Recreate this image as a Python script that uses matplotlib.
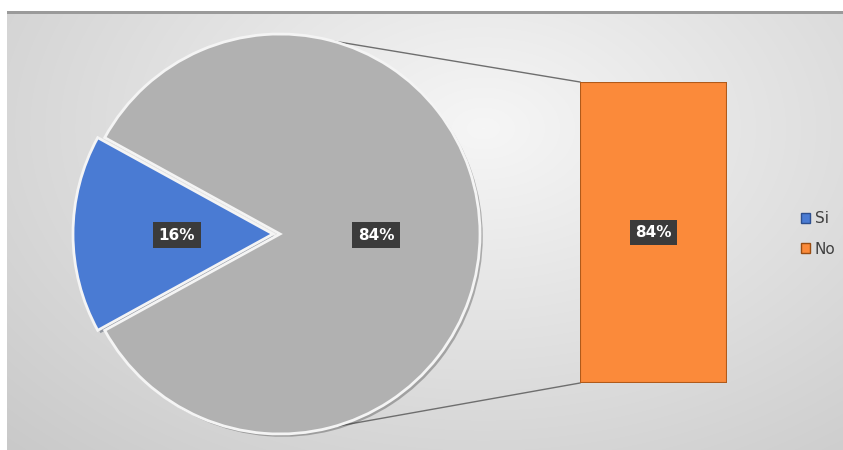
import numpy as np
import matplotlib
matplotlib.use("Agg")
import matplotlib.pyplot as plt
from matplotlib.patches import Patch, Rectangle, Circle
import matplotlib.patheffects as pe

# datos
categorias = ["Si", "No"]
valores = [16, 84]
porcentajes = ["16%", "84%"]
colores = ["#4a7bd3", "#b1b1b1"]
color_barra = "#fb8a3a"

W, H = 843, 450
fig = plt.figure(figsize=(W / 100, H / 100), dpi=100)
fig.patch.set_facecolor("white")
ax = fig.add_axes([0, 0, 1, 1])

# fondo degradado del area del grafico
yy, xx = np.mgrid[0:H, 0:W]
d = np.sqrt(((xx - 480) / 620.0) ** 2 + ((yy - 120) / 420.0) ** 2)
fondo = 0.965 - 0.16 * np.clip(d, 0, 1.2)
img = np.dstack([fondo, fondo, fondo])
ax.imshow(img, extent=[7, W, H, 11], zorder=0, aspect="auto")
ax.add_patch(Rectangle((7, 11), W - 7, 3, color="#9a9a9a", zorder=1, lw=0))

# pastel
cx, cy, r = 280, 234, 200
sombra = [pe.SimplePatchShadow(offset=(2, -2), alpha=0.35), pe.Normal()]
wedges, _ = ax.pie(valores, colors=colores, startangle=180 - valores[0] * 1.8,
                   radius=r, center=(cx, cy), explode=[7, 0],
                   wedgeprops=dict(edgecolor="white", linewidth=2),
                   frame=True)
for w in wedges:
    w.set_zorder(3)
    w.set_path_effects(sombra)
    w.set_edgecolor("#f4f4f4")

# etiquetas del pastel
caja = dict(boxstyle="square,pad=0.35", fc="#3b3b3b", ec="none")
ax.text(177, 235, porcentajes[0], color="white", fontsize=11, fontweight="bold",
        ha="center", va="center", bbox=caja, zorder=5)
ax.text(376, 235, porcentajes[1], color="white", fontsize=11, fontweight="bold",
        ha="center", va="center", bbox=caja, zorder=5)

# barra de la derecha
bx0, bx1, by0, by1 = 580, 727, 82, 383
bax = fig.add_axes([bx0 / W, 1 - by1 / H, (bx1 - bx0) / W, (by1 - by0) / H])
bax.bar([0], [valores[1]], width=1.0, color=color_barra, edgecolor="#b05a1a",
        linewidth=1.5, path_effects=[pe.SimplePatchShadow(offset=(3, -3), alpha=0.4), pe.Normal()])
bax.set_xlim(-0.5, 0.5)
bax.set_ylim(0, valores[1])
bax.axis("off")
bax.text(0, valores[1] / 2, porcentajes[1], color="white", fontsize=11, fontweight="bold",
         ha="center", va="center", bbox=caja)

# lineas de conexion
a_sup = np.deg2rad(75)
a_inf = np.deg2rad(-75)
ax.plot([cx + r * np.cos(a_sup), bx0], [cy - r * np.sin(a_sup), by0], color="#6e6e6e", lw=1, zorder=2)
ax.plot([cx + r * np.cos(a_inf), bx0], [cy - r * np.sin(a_inf), by1], color="#6e6e6e", lw=1, zorder=2)

ax.set_xlim(0, W)
ax.set_ylim(H, 0)
ax.set_aspect("auto")
ax.axis("off")

# leyenda
manejadores = [Patch(facecolor=colores[0], edgecolor="#2d4f8f"),
               Patch(facecolor=color_barra, edgecolor="#9a4d12")]
fig.legend(manejadores, categorias, loc="center left", bbox_to_anchor=(787 / W, 1 - 234 / H),
           frameon=False, fontsize=11, handlelength=0.6, handleheight=0.6,
           handletextpad=0.3, labelspacing=1.0, labelcolor="#404040")

fig.savefig("out.png", dpi=100)
